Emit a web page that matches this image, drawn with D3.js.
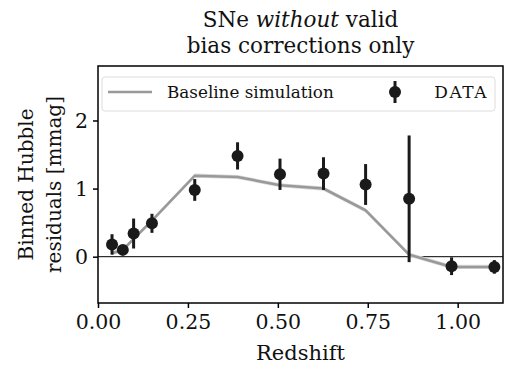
<!DOCTYPE html>
<html>
<head>
<meta charset="utf-8">
<script src="https://cdn.jsdelivr.net/npm/d3@7"></script>
<style>
  body { margin: 0; background: #fff; }
</style>
</head>
<body>
<div id="chart"></div>
<script>
var WIDTH = 512, HEIGHT = 368;
var FONT = "'DejaVu Serif', 'Liberation Serif', serif";
var margin = {top: 66, right: 9, bottom: 65, left: 98}; //plot box from 98 to 503, 66 to 303

// binned redshift, data residuals and error, baseline simulation
var redshift = [0.039, 0.069, 0.099, 0.15, 0.269, 0.388, 0.506, 0.627, 0.744, 0.865, 0.983, 1.102];
var dataResid = [0.18, 0.10, 0.34, 0.49, 0.98, 1.48, 1.21, 1.22, 1.06, 0.85, -0.14, -0.15];
var dataErr = [0.15, 0.06, 0.22, 0.14, 0.16, 0.20, 0.23, 0.24, 0.30, 0.93, 0.13, 0.10];
var simResid = [0.05, 0.10, 0.26, 0.53, 1.19, 1.17, 1.05, 1.00, 0.68, 0.03, -0.15, -0.15];
var simBand = 0.03;

var xTicks = [0, 0.25, 0.5, 0.75, 1.0];
var yTicks = [0, 1, 2];

var svg = d3.select("#chart").append("svg")
    .attr("width", WIDTH)
    .attr("height", HEIGHT)
    .style("font-family", FONT);

var w = WIDTH - margin.left - margin.right,
    h = HEIGHT - margin.top - margin.bottom;

var x = d3.scaleLinear().domain([0, 1.126]).range([0, w]);
var y = d3.scaleLinear().domain([-0.68, 2.8]).range([h, 0]);

var g = svg.append("g").attr("transform", "translate(" + margin.left + "," + margin.top + ")");

// zero line
g.append("line")
  .attr("x1", 0).attr("x2", w)
  .attr("y1", y(0)).attr("y2", y(0))
  .attr("stroke", "#000").attr("stroke-width", 1);

// simulation band + line
var sim = redshift.map(function(z, i) { return {z: z, v: simResid[i]}; });
g.append("path")
  .datum(sim)
  .attr("fill", "#d9d9d9")
  .attr("d", d3.area()
    .x(function(d) { return x(d.z); })
    .y0(function(d) { return y(d.v - simBand); })
    .y1(function(d) { return y(d.v + simBand); }));
g.append("path")
  .datum(sim)
  .attr("fill", "none")
  .attr("stroke", "#999")
  .attr("stroke-width", 2.5)
  .attr("d", d3.line().x(function(d) { return x(d.z); }).y(function(d) { return y(d.v); }));

// data with error bars
var pts = redshift.map(function(z, i) { return {z: z, v: dataResid[i], e: dataErr[i]}; });
g.selectAll(".err").data(pts).enter().append("line")
  .attr("class", "err")
  .attr("x1", function(d) { return x(d.z); })
  .attr("x2", function(d) { return x(d.z); })
  .attr("y1", function(d) { return y(d.v - d.e); })
  .attr("y2", function(d) { return y(d.v + d.e); })
  .attr("stroke", "#1a1a1a").attr("stroke-width", 3);
g.selectAll(".pt").data(pts).enter().append("circle")
  .attr("class", "pt")
  .attr("cx", function(d) { return x(d.z); })
  .attr("cy", function(d) { return y(d.v); })
  .attr("r", 6)
  .attr("fill", "#1a1a1a");

// axes
var xAxis = g.append("g").attr("transform", "translate(0," + h + ")")
  .call(d3.axisBottom(x).tickValues(xTicks).tickFormat(d3.format(".2f")).tickSizeInner(5).tickSizeOuter(0));
var yAxis = g.append("g")
  .call(d3.axisLeft(y).tickValues(yTicks).tickFormat(d3.format("d")).tickSizeInner(5).tickSizeOuter(0));
[xAxis, yAxis].forEach(function(a) {
  a.attr("font-family", null).attr("font-size", 20.5);
  a.select(".domain").remove();
  a.selectAll("line").attr("stroke", "#000").attr("stroke-width", 1.5);
  a.selectAll("text").attr("fill", "#111");
});
xAxis.selectAll("text").attr("dy", "0.95em").attr("y", 7);
yAxis.selectAll("text").attr("x", -10);

// frame
g.append("rect")
  .attr("width", w).attr("height", h)
  .attr("fill", "none").attr("stroke", "#000").attr("stroke-width", 1.5);

// legend
var leg = g.append("g").attr("transform", "translate(4,11)");
leg.append("rect")
  .attr("width", 393).attr("height", 34).attr("rx", 3)
  .attr("fill", "#fff").attr("fill-opacity", 0.8)
  .attr("stroke", "#ddd").attr("stroke-width", 1);
leg.append("line")
  .attr("x1", 6).attr("x2", 50).attr("y1", 15).attr("y2", 15)
  .attr("stroke", "#999").attr("stroke-width", 2.5);
leg.append("text").attr("x", 65).attr("y", 21).attr("font-size", 16.8).attr("fill", "#111").text("Baseline simulation");
leg.append("line")
  .attr("x1", 293).attr("x2", 293).attr("y1", 4).attr("y2", 26)
  .attr("stroke", "#1a1a1a").attr("stroke-width", 3);
leg.append("circle").attr("cx", 293).attr("cy", 15).attr("r", 6).attr("fill", "#1a1a1a");
leg.append("text").attr("x", 386).attr("y", 21).attr("text-anchor", "end").attr("font-size", 17)
  .attr("letter-spacing", 1.5).attr("fill", "#111").text("DATA");

// title
var cx = margin.left + w / 2;
var t1 = svg.append("text").attr("x", cx).attr("y", 27).attr("text-anchor", "middle").attr("font-size", 21.5).attr("fill", "#111");
t1.append("tspan").text("SNe ");
t1.append("tspan").attr("font-style", "italic").text("without");
t1.append("tspan").text(" valid");
svg.append("text").attr("x", cx).attr("y", 53).attr("text-anchor", "middle").attr("font-size", 21.5).attr("fill", "#111")
  .text("bias corrections only");

// axis labels
svg.append("text").attr("x", cx).attr("y", 360).attr("text-anchor", "middle").attr("font-size", 21).attr("fill", "#111").text("Redshift");
var cy = margin.top + h / 2;
svg.append("text").attr("transform", "translate(33," + cy + ") rotate(-90)")
  .attr("text-anchor", "middle").attr("font-size", 20).attr("fill", "#111").text("Binned Hubble");
svg.append("text").attr("transform", "translate(61," + cy + ") rotate(-90)")
  .attr("text-anchor", "middle").attr("font-size", 20).attr("fill", "#111").text("residuals [mmag]");
</script>
</body>
</html>
